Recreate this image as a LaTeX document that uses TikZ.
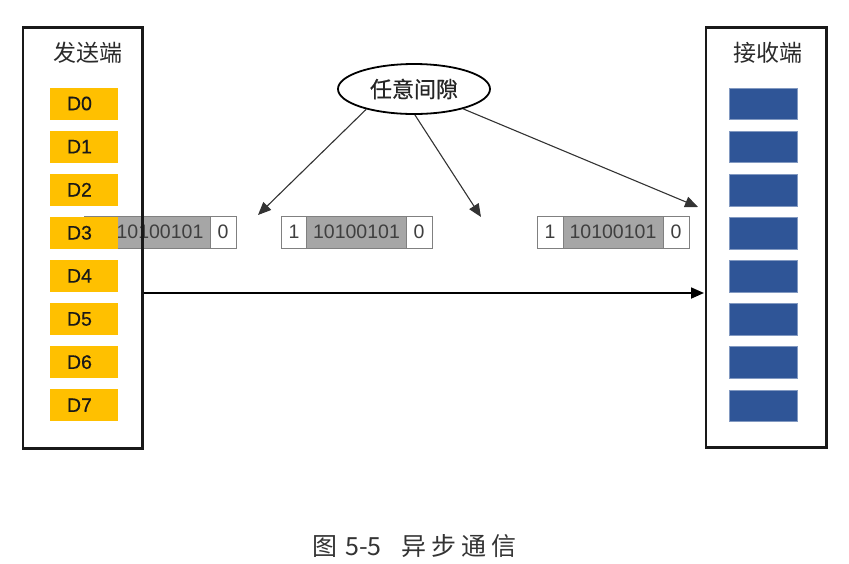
\documentclass[tikz,border=0pt]{standalone}
\usepackage{fontspec}
\setmainfont{Liberation Sans}
\newfontfamily\labelfont[FakeBold=0.5]{Liberation Sans}
\newfontfamily\cjk{Noto Sans CJK SC}
\newfontfamily\cjkheavy[FakeBold=0.8]{Noto Sans CJK SC}
\newfontfamily\cjkwide[LetterSpace=20]{Noto Sans CJK SC}
\usetikzlibrary{arrows.meta,shapes.geometric}

\definecolor{bitgray}{HTML}{A6A6A6}
\definecolor{celledge}{HTML}{808080}
\definecolor{celltext}{HTML}{3F3F3F}
\definecolor{dataamber}{HTML}{FFC000}
\definecolor{slotblue}{HTML}{2F5597}
\definecolor{titlegray}{HTML}{2B2B2B}

\tikzset{
  frame/.style={draw=black!90, line width=2.6pt, inner sep=0pt},
  title/.style={font=\cjk\fontsize{23}{23}\selectfont, text=titlegray, inner sep=0pt},
  databox/.style={fill=dataamber, minimum width=68pt, minimum height=32pt,
    text width=34pt, align=left, inner sep=0pt,
    font=\labelfont\fontsize{19.5}{19.5}\selectfont, text=black!90},
  slotbox/.style={fill=slotblue, draw=slotblue!60!white, line width=0.4pt,
    minimum width=68pt, minimum height=31.5pt, inner sep=0pt},
  bitcell/.style={draw=celledge, line width=0.9pt, minimum height=32pt, inner sep=0pt,
    font=\fontsize{19.5}{19.5}\selectfont, text=celltext},
  edgebit/.style={bitcell, fill=white, minimum width=26pt},
  databits/.style={bitcell, fill=bitgray, minimum width=100pt},
  gapnote/.style={ellipse, draw=black, line width=1.8pt, minimum width=152pt,
    minimum height=50pt, inner sep=0pt, font=\cjkheavy\fontsize{22}{22}\selectfont, text=black!85},
  pointer/.style={draw=black!80, line width=1.1pt, -{Triangle[length=13pt,width=11pt]}},
  link/.style={draw=black, line width=1.8pt, -{Triangle[length=13pt,width=11pt]}},
  caption/.style={font=\cjk\fontsize{25}{25}\selectfont, text=black!80, inner sep=0pt}
}

\begin{document}
\begin{tikzpicture}[x=1pt, y=-1pt]
  \useasboundingbox (0,0) rectangle (849,563);

  % frames sending one byte: start bit, data bits, stop bit
  \node[edgebit]  (f1s) at (97,232) {};
  \node[databits] (f1d) at (160,232) {10100101};
  \node[edgebit]  (f1e) at (223,232) {0};

  \node[edgebit]  (f2s) at (294,232) {1};
  \node[databits] (f2d) at (356.5,232) {10100101};
  \node[edgebit]  (f2e) at (419,232) {0};

  \node[edgebit]  (f3s) at (550,232) {1};
  \node[databits] (f3d) at (613,232) {10100101};
  \node[edgebit]  (f3e) at (676,232) {0};

  % sender data registers
  \foreach \i in {0,...,7} {
    \node[databox] (d\i) at (84,103.5+43.1*\i) {D\i};
  }

  % receiver slots
  \foreach \i in {0,...,7} {
    \node[slotbox] (r\i) at (763,103.8+43.1*\i) {};
  }

  % sender and receiver frames
  \node[frame, minimum width=119.5pt, minimum height=421pt] (sender) at (82.75,238) {};
  \node[frame, minimum width=120.5pt, minimum height=420pt] (receiver) at (766.25,237.7) {};
  \node[title] (sendtitle) at (87.5,52.5) {发送端};
  \node[title] (recvtitle) at (768,52.5) {接收端};

  % arbitrary idle gap between frames
  \node[gapnote] (gap) at (414,89) {任意间隙};
  \coordinate (g1) at (258,215);
  \coordinate (g2) at (481,217);
  \coordinate (g3) at (698,207);
  \draw[pointer] (gap.203) -- (g1);
  \draw[pointer] (gap.272) -- (g2);
  \draw[pointer] (gap.-22) -- (g3);

  % transmission line
  \coordinate (tx) at (143.5,293);
  \coordinate (rx) at (704,293);
  \draw[link] (tx) -- (rx);

  \node[caption, anchor=west] (cap) at (312,546)
    {图\hspace{8pt}5-5\hspace{20pt}{\cjkwide 异步通信}};
\end{tikzpicture}
\end{document}
